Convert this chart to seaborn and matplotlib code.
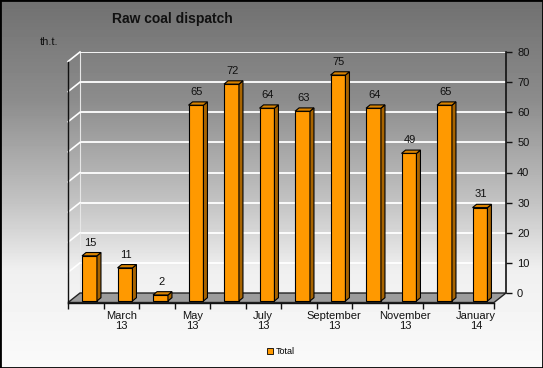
import numpy as np
import seaborn as sns
import matplotlib.pyplot as plt
from matplotlib.patches import Polygon, Patch, Rectangle
from matplotlib.lines import Line2D
from matplotlib.transforms import offset_copy, IdentityTransform

months = ["February 13", "March 13", "April 13", "May 13", "June 13", "July 13",
          "August 13", "September 13", "October 13", "November 13", "December 13", "January 14"]
values = [15, 11, 2, 65, 72, 64, 63, 75, 64, 49, 65, 31]
tick_pos = [1, 3, 5, 7, 9, 11]
tick_labels = ["March\n13", "May\n13", "July\n13", "September\n13", "November\n13", "January\n14"]
y_ticks = [0, 10, 20, 30, 40, 50, 60, 70, 80]

W, H = 543, 368
plt.rcParams['font.family'] = ['Liberation Sans', 'DejaVu Sans']
fig = plt.figure(figsize=(W / 100, H / 100), dpi=100)

# gray-to-white gradient behind everything
bg = fig.add_axes([0, 0, 1, 1], zorder=-10)
rows = np.arange(H)
shade = np.interp(rows, [0, 100, 200, 270, 368], [0.44, 0.55, 0.76, 0.94, 0.98])
bg.imshow(np.repeat(shade[:, None], 2, axis=1), cmap='gray', vmin=0, vmax=1,
          aspect='auto', extent=[0, 1, 0, 1])
bg.set_axis_off()

# front plane (floor edge) and back wall, shifted by the depth offset
DX, DY = 12, 9.5
fx0, fx1 = 68, 494
fy0, fy1 = 302.5, 61.5
box = [fx0 / W, 1 - fy0 / H, (fx1 - fx0) / W, (fy0 - fy1) / H]
ax = fig.add_axes(box, zorder=2)
back = fig.add_axes([box[0] + DX / W, box[1] + DY / H, box[2], box[3]], zorder=1)

for a in (ax, back):
    a.set_xlim(-0.5, 11.5)
    a.set_ylim(0, 80)
    a.patch.set_visible(False)

back.set_xticks([])
back.set_yticks(y_ticks)
back.yaxis.tick_right()
back.grid(axis='y', color='white', lw=1.3)
for s in ['top', 'bottom']:
    back.spines[s].set_visible(False)
back.spines['left'].set_color('#e6e6e6')
back.spines['right'].set_color('#111111')
back.spines['right'].set_linewidth(1.2)
back.tick_params(axis='y', length=4, width=1, labelsize=8, pad=4, colors='#111111')

sns.barplot(x=months, y=values, color='#FF9900', width=0.42, edgecolor='black',
            linewidth=0.8, saturation=1, ax=ax, zorder=4)
ax.set_xlim(-0.5, 11.5)
ax.set_ylim(0, 80)
ax.set_xlabel('')
ax.set_ylabel('')
ax.set_yticks([])
ax.set_xticks(tick_pos, tick_labels)
ax.set_xticks(np.arange(-0.5, 12, 1), minor=True)
ax.tick_params(axis='x', which='major', length=0, labelsize=8, pad=6, colors='#111111')
ax.tick_params(axis='x', which='minor', length=4, width=1, colors='#111111')
for t in ax.get_xticklabels():
    t.set_linespacing(1.05)
for s in ['top', 'right']:
    ax.spines[s].set_visible(False)
for s in ['left', 'bottom']:
    ax.spines[s].set_color('#111111')
    ax.spines[s].set_linewidth(1)

ident = IdentityTransform()

# floor slab
fl = ax.transData.transform([(-0.5, 0), (11.5, 0)])
floor = Polygon([fl[0], fl[1], fl[1] + (DX, DY), fl[0] + (DX, DY)], closed=True,
                facecolor='#9c9c9c', edgecolor='#222222', lw=1, transform=ident,
                clip_on=False, zorder=1)
ax.add_patch(floor)

# left wall gridlines
for v in y_ticks[1:]:
    p = ax.transData.transform((-0.5, v))
    ax.add_line(Line2D([p[0], p[0] + DX], [p[1], p[1] + DY], color='white', lw=1.2,
                       transform=ident, clip_on=False, zorder=1))

# bars: front faces shifted, plus side and top faces
bar_tr = offset_copy(ax.transData, fig=fig, x=3.75, y=1.5, units='dots')
SD, SH = 4, 3.3
for p, v in zip(ax.patches, values):
    p.set_transform(bar_tr)
    p.set_clip_on(False)
    x0, w, h = p.get_x(), p.get_width(), p.get_height()
    c = bar_tr.transform([(x0, 0), (x0 + w, 0), (x0 + w, h), (x0, h)])
    side = [c[1], c[1] + (SD, SH), c[2] + (SD, SH), c[2]]
    top = [c[3], c[2], c[2] + (SD, SH), c[3] + (SD, SH)]
    ax.add_patch(Polygon(side, closed=True, facecolor='#A86400', edgecolor='black',
                         lw=0.8, transform=ident, clip_on=False, zorder=4))
    ax.add_patch(Polygon(top, closed=True, facecolor='#D98300', edgecolor='black',
                         lw=0.8, transform=ident, clip_on=False, zorder=4))
    ax.annotate(f'{v}', xy=(x0 + w / 2, h), xycoords=bar_tr, xytext=(1, SH + 5),
                textcoords='offset pixels', ha='center', va='bottom', fontsize=8,
                color='#111111')

fig.text(172 / W, 1 - 19 / H, 'Raw coal dispatch', ha='center', va='center',
         fontsize=10, fontweight='bold', color='#111111')
fig.text(49 / W, 1 - 42 / H, 'th.t.', ha='center', va='center', fontsize=8, color='#111111')

fig.legend(handles=[Patch(facecolor='#FF9900', edgecolor='black', lw=0.6)], labels=['Total'],
           loc='center', bbox_to_anchor=(281 / W, 1 - 352 / H), frameon=False, fontsize=6.5,
           handlelength=0.6, handleheight=0.6, handletextpad=0.3)

fig.add_artist(Rectangle((0, 0), 1, 1, transform=fig.transFigure, fill=False,
                         edgecolor='black', lw=2))

fig.savefig('out.png', dpi=100)
